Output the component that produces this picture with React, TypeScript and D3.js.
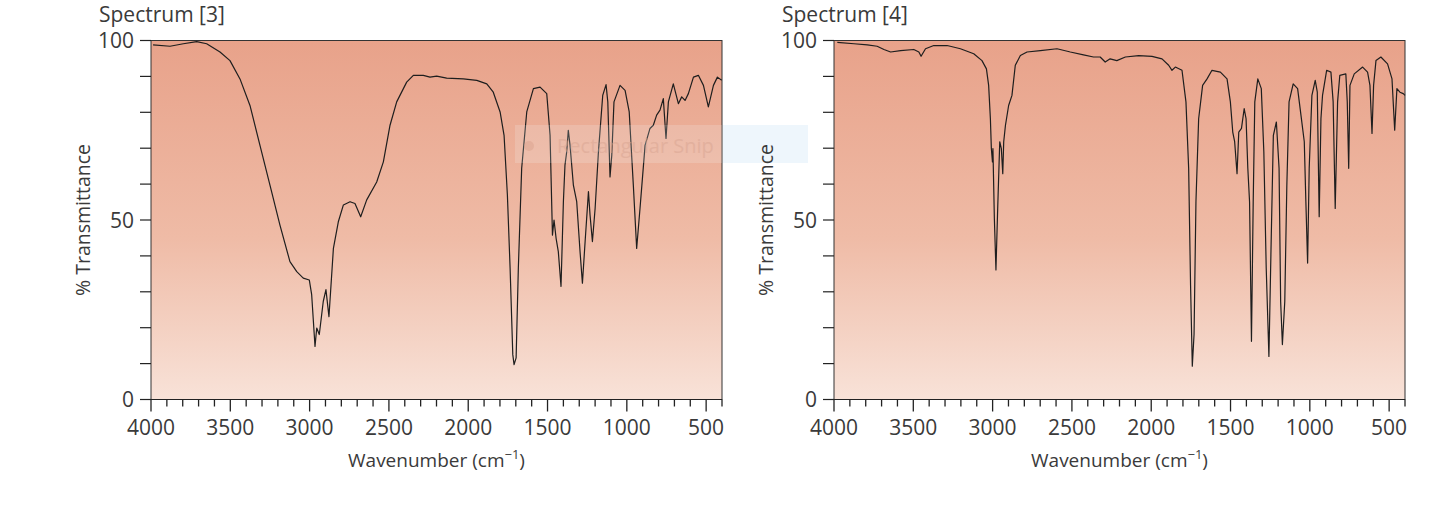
import * as d3 from "d3"
import React, { useEffect, useRef } from "react"

// [wavenumber, % transmittance]
const spectrum3 = [
    [3987, 98.8], [3880, 98.4], [3796, 99.1], [3712, 99.7], [3649, 99.1], [3565, 96.8],
    [3502, 94.4], [3439, 89.3], [3376, 81.9], [3313, 70.8], [3250, 59.7], [3187, 48.6],
    [3124, 38.4], [3081, 35.6], [3040, 33.8], [3002, 33.3], [2987, 29.2], [2966, 14.8],
    [2955, 19.9], [2939, 18.1], [2914, 27.3], [2897, 30.6], [2878, 23.1], [2850, 42.1],
    [2819, 49.5], [2787, 54.2], [2745, 55.1], [2714, 54.6], [2678, 50.9], [2640, 55.6],
    [2577, 60.6], [2535, 66.2], [2493, 76.4], [2451, 82.9], [2388, 88.4], [2346, 90.3],
    [2283, 90.3], [2241, 89.8], [2199, 90.1], [2136, 89.5], [2031, 89.3], [1946, 88.9],
    [1883, 87.9], [1842, 85.6], [1799, 80.1], [1774, 73.6], [1753, 56.9], [1736, 36.6],
    [1719, 12.5], [1711, 9.7], [1698, 11.6], [1684, 36.6], [1663, 64.4], [1631, 80.1],
    [1589, 86.6], [1547, 87.0], [1505, 85.2], [1484, 73.6], [1469, 45.8], [1459, 50],
    [1446, 44.9], [1432, 41.2], [1415, 31.5], [1400, 55.1], [1390, 65.3], [1379, 69],
    [1369, 75], [1358, 70.8], [1337, 59.7], [1316, 55.1], [1295, 41.2], [1280, 32.4],
    [1263, 44], [1242, 57.9], [1232, 51.4], [1217, 44], [1200, 53.2], [1179, 69],
    [1152, 84.7], [1131, 87.7], [1120, 82.9], [1106, 62], [1095, 68], [1081, 82.9],
    [1043, 87.5], [1011, 86.1], [985, 80.1], [959, 59.7], [938, 42.1], [917, 53.2],
    [885, 70.8], [854, 75.5], [833, 76.4], [812, 79.2], [791, 80.6], [770, 83.8],
    [753, 72.7], [738, 82.9], [707, 87.9], [675, 82.4], [654, 84.3], [633, 83.3],
    [612, 85.2], [580, 89.8], [549, 90.3], [517, 87.5], [486, 81.5], [454, 87.5],
    [429, 89.8], [402, 88.9]
]

const spectrum4 = [
    [3979, 99.5], [3874, 99.1], [3790, 98.8], [3728, 98.4], [3685, 97.5], [3643, 96.8],
    [3580, 97.2], [3497, 97.5], [3465, 96.8], [3451, 95.6], [3423, 97.7], [3371, 98.6],
    [3287, 98.6], [3203, 97.7], [3119, 96.3], [3067, 94.4], [3039, 92.1], [3025, 87.5],
    [3014, 78.2], [3008, 69.9], [3001, 66.2], [2998, 69.9], [2989, 50.5], [2979, 36.1],
    [2968, 53.2], [2955, 71.8], [2945, 69.9], [2936, 62.9], [2930, 71.8], [2919, 76.4],
    [2899, 81.9], [2878, 84.7], [2857, 93.1], [2825, 95.8], [2783, 96.8], [2699, 97.2],
    [2594, 97.7], [2510, 96.8], [2427, 96], [2364, 95.4], [2322, 95.4], [2290, 94],
    [2259, 94.9], [2217, 94.4], [2163, 95.4], [2079, 95.8], [1995, 95.6], [1932, 94.9],
    [1890, 93.1], [1869, 91.7], [1848, 92.6], [1806, 91.7], [1781, 82.9], [1764, 64.4],
    [1752, 31.9], [1741, 9.3], [1730, 18.1], [1718, 55.1], [1701, 78.2], [1676, 87.5],
    [1648, 89.3], [1617, 91.7], [1564, 91.2], [1522, 89.3], [1501, 82.9], [1486, 74.5],
    [1474, 71.8], [1459, 62.9], [1448, 74.5], [1431, 75.5], [1414, 81], [1402, 78.2],
    [1391, 64.4], [1380, 55.1], [1368, 16.2], [1357, 55.1], [1347, 82.9], [1328, 89.3],
    [1306, 86.6], [1290, 69], [1275, 36.6], [1258, 12], [1243, 45.8], [1230, 73.6],
    [1211, 77.3], [1194, 64.4], [1184, 27.3], [1173, 15.3], [1158, 27.3], [1145, 59.7],
    [1131, 82.9], [1105, 87.9], [1077, 86.6], [1056, 79.2], [1035, 71.8], [1025, 55.1],
    [1014, 38], [1004, 64.4], [987, 84.7], [966, 88.9], [953, 85.6], [941, 50.9],
    [930, 78.2], [920, 84.7], [894, 91.7], [867, 91.2], [853, 82.9], [840, 53.2],
    [825, 82.9], [811, 90.3], [773, 90.7], [764, 82.9], [755, 64.4], [747, 87.5],
    [720, 90.7], [667, 92.6], [636, 91.2], [621, 87.5], [608, 74.1], [598, 87.5],
    [583, 94.4], [552, 95.4], [510, 93.5], [482, 89.3], [465, 75], [451, 86.6],
    [432, 85.6], [411, 85.2], [400, 84.7]
]

const panels = [
    { title: "Spectrum [3]", data: spectrum3, left: 151 },
    { title: "Spectrum [4]", data: spectrum4, left: 834 }
]

const xLabels = [4000, 3500, 3000, 2500, 2000, 1500, 1000, 500]
const yLabels = [0, 50, 100]

const SpectraChart = () => {
    const svgRef = useRef(null)

    useEffect(() => {
        const width = 1441
        const height = 508
        const plotW = 571
        const top = 40.5
        const bottom = 399.5
        const font = "'Open Sans', sans-serif"
        const textColor = "#3a3a3a"

        const svg = d3.select(svgRef.current)
            .attr("width", width)
            .attr("height", height)
            .style("display", "block")

        svg.selectAll("*").remove()

        const defs = svg.append("defs")
        const grad = defs.append("linearGradient")
            .attr("id", "bg")
            .attr("x1", 0).attr("y1", 0).attr("x2", 0).attr("y2", 1)
        grad.append("stop").attr("offset", "0%").attr("stop-color", "#e8a28a")
        grad.append("stop").attr("offset", "55%").attr("stop-color", "#efbba6")
        grad.append("stop").attr("offset", "100%").attr("stop-color", "#f8e2d8")

        // the part of the screen-snip box lying on white, drawn under the axis texts
        svg.append("rect")
            .attr("x", 723).attr("y", 125)
            .attr("width", 85).attr("height", 38)
            .attr("fill", "#eef6fc")

        panels.forEach((p) => {
            const x = d3.scaleLinear().domain([4000, 400]).range([p.left, p.left + plotW])
            const y = d3.scaleLinear().domain([0, 100]).range([bottom, top])

            const g = svg.append("g")

            // plot background
            g.append("rect")
                .attr("x", x(4000))
                .attr("y", y(100))
                .attr("width", x(400) - x(4000))
                .attr("height", y(0) - y(100))
                .attr("fill", "url(#bg)")
                .attr("stroke", "#333")
                .attr("stroke-width", 1)

            // spectrum trace
            const line = d3.line()
                .x((d) => x(d[0]))
                .y((d) => y(d[1]))
            g.append("path")
                .datum(p.data)
                .attr("d", line)
                .attr("fill", "none")
                .attr("stroke", "#1e1e1e")
                .attr("stroke-width", 1.2)
                .attr("stroke-linejoin", "round")

            // x axis
            const xAxis = g.append("g")
                .attr("transform", `translate(0, ${bottom})`)
            xAxis.append("line")
                .attr("x1", x(4000)).attr("x2", x(400))
                .attr("stroke", "#222")
            const xTicks = d3.range(4000, 399, -100)
            xAxis.selectAll(".xt")
                .data(xTicks)
                .join("line")
                .attr("x1", (d) => x(d)).attr("x2", (d) => x(d))
                .attr("y1", 0)
                .attr("y2", (d) => (d % 500 === 0 ? 12 : 7))
                .attr("stroke", "#222")
                .attr("stroke-width", 1.3)
            xAxis.selectAll(".xl")
                .data(xLabels)
                .join("text")
                .attr("x", (d) => x(d))
                .attr("y", 35)
                .attr("text-anchor", "middle")
                .attr("font-family", font)
                .attr("font-size", 21)
                .attr("fill", textColor)
                .text((d) => d)

            // y axis
            const yAxis = g.append("g")
            yAxis.selectAll(".yt")
                .data(d3.range(0, 101, 10))
                .join("line")
                .attr("x1", x(4000) - 11).attr("x2", x(4000))
                .attr("y1", (d) => y(d)).attr("y2", (d) => y(d))
                .attr("stroke", "#222")
                .attr("stroke-width", 1.2)
            yAxis.selectAll(".yl")
                .data(yLabels)
                .join("text")
                .attr("x", x(4000) - 17)
                .attr("y", (d) => y(d))
                .attr("dy", "0.36em")
                .attr("text-anchor", "end")
                .attr("font-family", font)
                .attr("font-size", 21)
                .attr("fill", textColor)
                .text((d) => d)

            // titles
            g.append("text")
                .attr("x", p.left - 52)
                .attr("y", 22)
                .attr("font-family", font)
                .attr("font-size", 21)
                .attr("fill", textColor)
                .text(p.title)

            g.append("text")
                .attr("transform", `translate(${p.left - 61}, ${(top + bottom) / 2}) rotate(-90)`)
                .attr("text-anchor", "middle")
                .attr("font-family", font)
                .attr("font-size", 19.5)
                .attr("fill", textColor)
                .text("% Transmittance")

            const xt = g.append("text")
                .attr("x", (x(4000) + x(400)) / 2)
                .attr("y", 467)
                .attr("text-anchor", "middle")
                .attr("font-family", font)
                .attr("font-size", 19)
                .attr("fill", textColor)
            xt.append("tspan").text("Wavenumber (cm")
            xt.append("tspan").attr("dy", -8).attr("font-size", 13).text("−1")
            xt.append("tspan").attr("dy", 8).text(")")
        })

        // faint screen-snip overlay on top of the left plot
        const snip = svg.append("g")
        snip.append("rect")
            .attr("x", 515).attr("y", 125)
            .attr("width", 207).attr("height", 38)
            .attr("fill", "#f2f8fc")
            .attr("opacity", 0.18)
        snip.append("circle")
            .attr("cx", 529).attr("cy", 146).attr("r", 5)
            .attr("fill", "#d9a08c").attr("opacity", 0.45)
        snip.append("text")
            .attr("x", 557).attr("y", 153)
            .attr("font-family", font)
            .attr("font-size", 20)
            .attr("fill", "#d9a592")
            .attr("opacity", 0.5)
            .text("Rectangular Snip")
    }, [])

    return <svg ref={svgRef}></svg>
}

export default function App() {
    return (
        <div style={{ position: "absolute", left: 0, top: 0 }}>
            <SpectraChart />
        </div>
    )
}
